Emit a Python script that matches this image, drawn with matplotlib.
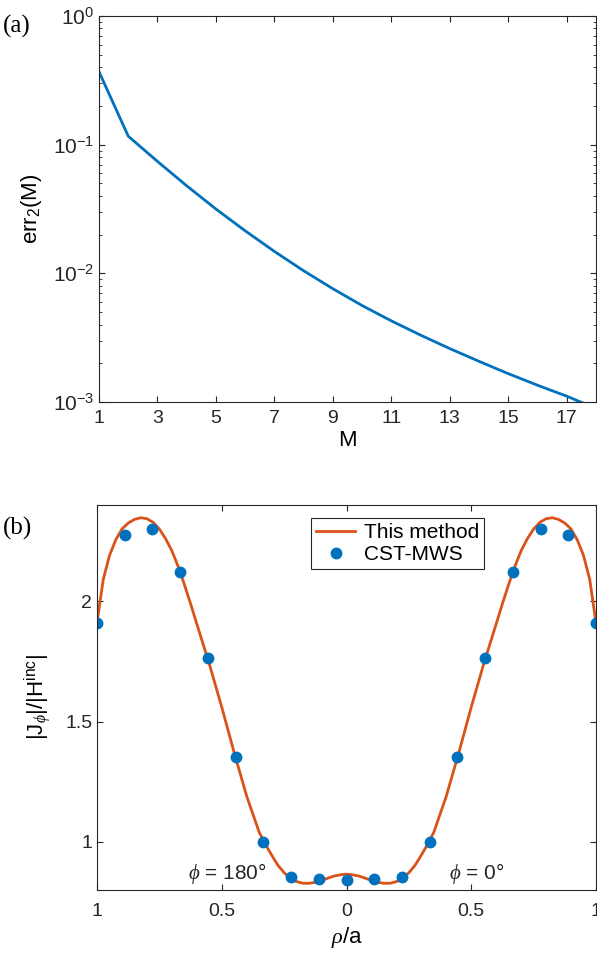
import matplotlib
matplotlib.use('Agg')
import matplotlib.pyplot as plt
from matplotlib.ticker import LogLocator, NullFormatter

# (a) error vs number of modes M
M_vals = [1, 2, 3, 4, 5, 6, 7, 8, 9, 10, 11, 12, 13, 14, 15, 16, 17, 18]
err2 = [0.369, 0.1164, 0.0741, 0.0479, 0.0316, 0.0214, 0.0148, 0.01047, 0.00759,
        0.00562, 0.00427, 0.00331, 0.00260, 0.00207, 0.00166, 0.00135, 0.00111, 0.00089]

# (b) current along the strip, this method (line)
rho_line = [-1.0, -0.975, -0.95, -0.925, -0.9, -0.875, -0.85, -0.825, -0.8, -0.775,
            -0.75, -0.725, -0.7, -0.675, -0.65, -0.625, -0.6, -0.55, -0.5, -0.45,
            -0.4, -0.35, -0.325, -0.3, -0.275, -0.25, -0.225, -0.2, -0.175, -0.15,
            -0.125, -0.1, -0.075, -0.05, -0.025, 0.0,
            0.025, 0.05, 0.075, 0.1, 0.125, 0.15, 0.175, 0.2, 0.225, 0.25, 0.275,
            0.3, 0.325, 0.35, 0.4, 0.45, 0.5, 0.55, 0.6, 0.625, 0.65, 0.675, 0.7,
            0.725, 0.75, 0.775, 0.8, 0.825, 0.85, 0.875, 0.9, 0.925, 0.95, 0.975, 1.0]
J_line = [1.91, 2.09, 2.19, 2.255, 2.30, 2.325, 2.34, 2.347, 2.343, 2.328,
          2.30, 2.26, 2.21, 2.145, 2.07, 1.99, 1.906, 1.74, 1.56, 1.37,
          1.19, 1.04, 0.99, 0.945, 0.903, 0.872, 0.848, 0.835, 0.828, 0.828,
          0.832, 0.840, 0.849, 0.858, 0.863, 0.866,
          0.863, 0.858, 0.849, 0.840, 0.832, 0.828, 0.828, 0.835, 0.848, 0.872, 0.903,
          0.945, 0.99, 1.04, 1.19, 1.37, 1.56, 1.74, 1.906, 1.99, 2.07, 2.145, 2.21,
          2.26, 2.30, 2.328, 2.343, 2.347, 2.34, 2.325, 2.30, 2.255, 2.19, 2.09, 1.91]

# CST-MWS samples
rho_cst = [-1.0, -0.889, -0.778, -0.667, -0.556, -0.444, -0.333, -0.222, -0.111, 0.0,
           0.111, 0.222, 0.333, 0.444, 0.556, 0.667, 0.778, 0.889, 1.0]
J_cst = [1.91, 2.276, 2.30, 2.12, 1.766, 1.352, 1.0, 0.854, 0.845, 0.84,
         0.845, 0.854, 1.0, 1.352, 1.766, 2.12, 2.30, 2.276, 1.91]

xticks_b = [-1, -0.5, 0, 0.5, 1]
xticklabels_b = ['1', '0.5', '0', '0.5', '1']

plt.rcParams['font.family'] = ['Liberation Sans', 'DejaVu Sans']
plt.rcParams['mathtext.fontset'] = 'custom'
plt.rcParams['mathtext.rm'] = 'Liberation Sans'
plt.rcParams['mathtext.it'] = 'Liberation Serif:italic'
plt.rcParams['font.size'] = 14

blue = '#0072BD'
orange = '#D95319'
axcol = '#262626'

W, H = 597, 958
fig = plt.figure(figsize=(W / 100, H / 100), dpi=100)


def style_axes(ax):
    for s in ax.spines.values():
        s.set_color(axcol)
        s.set_linewidth(0.8)
    ax.tick_params(which='both', direction='in', top=True, right=True,
                   colors=axcol, labelcolor='#262626', labelsize=14)
    ax.tick_params(which='major', length=4)
    ax.tick_params(which='minor', length=2)


# ---- (a) ----
ax1 = fig.add_axes([99 / W, 1 - 402 / H, 497 / W, 386 / H])
ax1.plot(M_vals, err2, color=blue, lw=2)
ax1.set_yscale('log')
ax1.set_xlim(1, 18)
ax1.set_ylim(1e-3, 1)
ax1.set_xticks(range(1, 18, 2))
ax1.yaxis.set_major_locator(LogLocator(base=10, numticks=10))
ax1.yaxis.set_minor_locator(LogLocator(base=10, subs=range(2, 10), numticks=10))
ax1.yaxis.set_minor_formatter(NullFormatter())
style_axes(ax1)
ax1.tick_params(axis='x', pad=6)
ax1.tick_params(axis='y', labelsize=15)
ax1.set_xlabel('M', fontsize=16, labelpad=2)
ax1.set_ylabel('err$_2$(M)', fontsize=16, labelpad=6)
fig.text(0.005, 1 - 26 / H, '(a)', family='Liberation Serif', fontsize=18, va='center')

# ---- (b) ----
ax2 = fig.add_axes([97 / W, 1 - 890 / H, 499 / W, 385 / H])
ax2.plot(rho_line, J_line, color=orange, lw=2, label='This method')
ax2.plot(rho_cst, J_cst, 'o', color=blue, ms=7.5, label='CST-MWS')
ax2.set_xlim(-1, 1)
ax2.set_ylim(0.8, 2.4)
ax2.set_xticks(xticks_b)
ax2.set_xticklabels(xticklabels_b)
ax2.set_yticks([1, 1.5, 2])
ax2.set_yticklabels(['1', '1.5', '2'])
style_axes(ax2)
ax2.tick_params(axis='x', pad=9)
ax2.set_xlabel(r'$\it{\rho}$/a', fontsize=16, labelpad=4)
ax2.set_ylabel(r'|J$_{\phi}$|/|H$^{\rm inc}$|', fontsize=16, labelpad=8)
ax2.text(-0.478, 0.87, r'$\phi$ = 180°', fontsize=15, ha='center', va='center', color='#262626')
ax2.text(0.52, 0.87, r'$\phi$ = 0°', fontsize=15, ha='center', va='center', color='#262626')
leg = ax2.legend(loc='upper left', bbox_to_anchor=(0.428, 0.967), borderaxespad=0,
                 fancybox=False, framealpha=1, edgecolor=axcol, fontsize=15,
                 handlelength=1.9, handletextpad=0.4, borderpad=0.25, labelspacing=0.15)
leg.get_frame().set_linewidth(0.8)
fig.text(0.005, 1 - 528 / H, '(b)', family='Liberation Serif', fontsize=18, va='center')

fig.savefig('out.png', dpi=100)
